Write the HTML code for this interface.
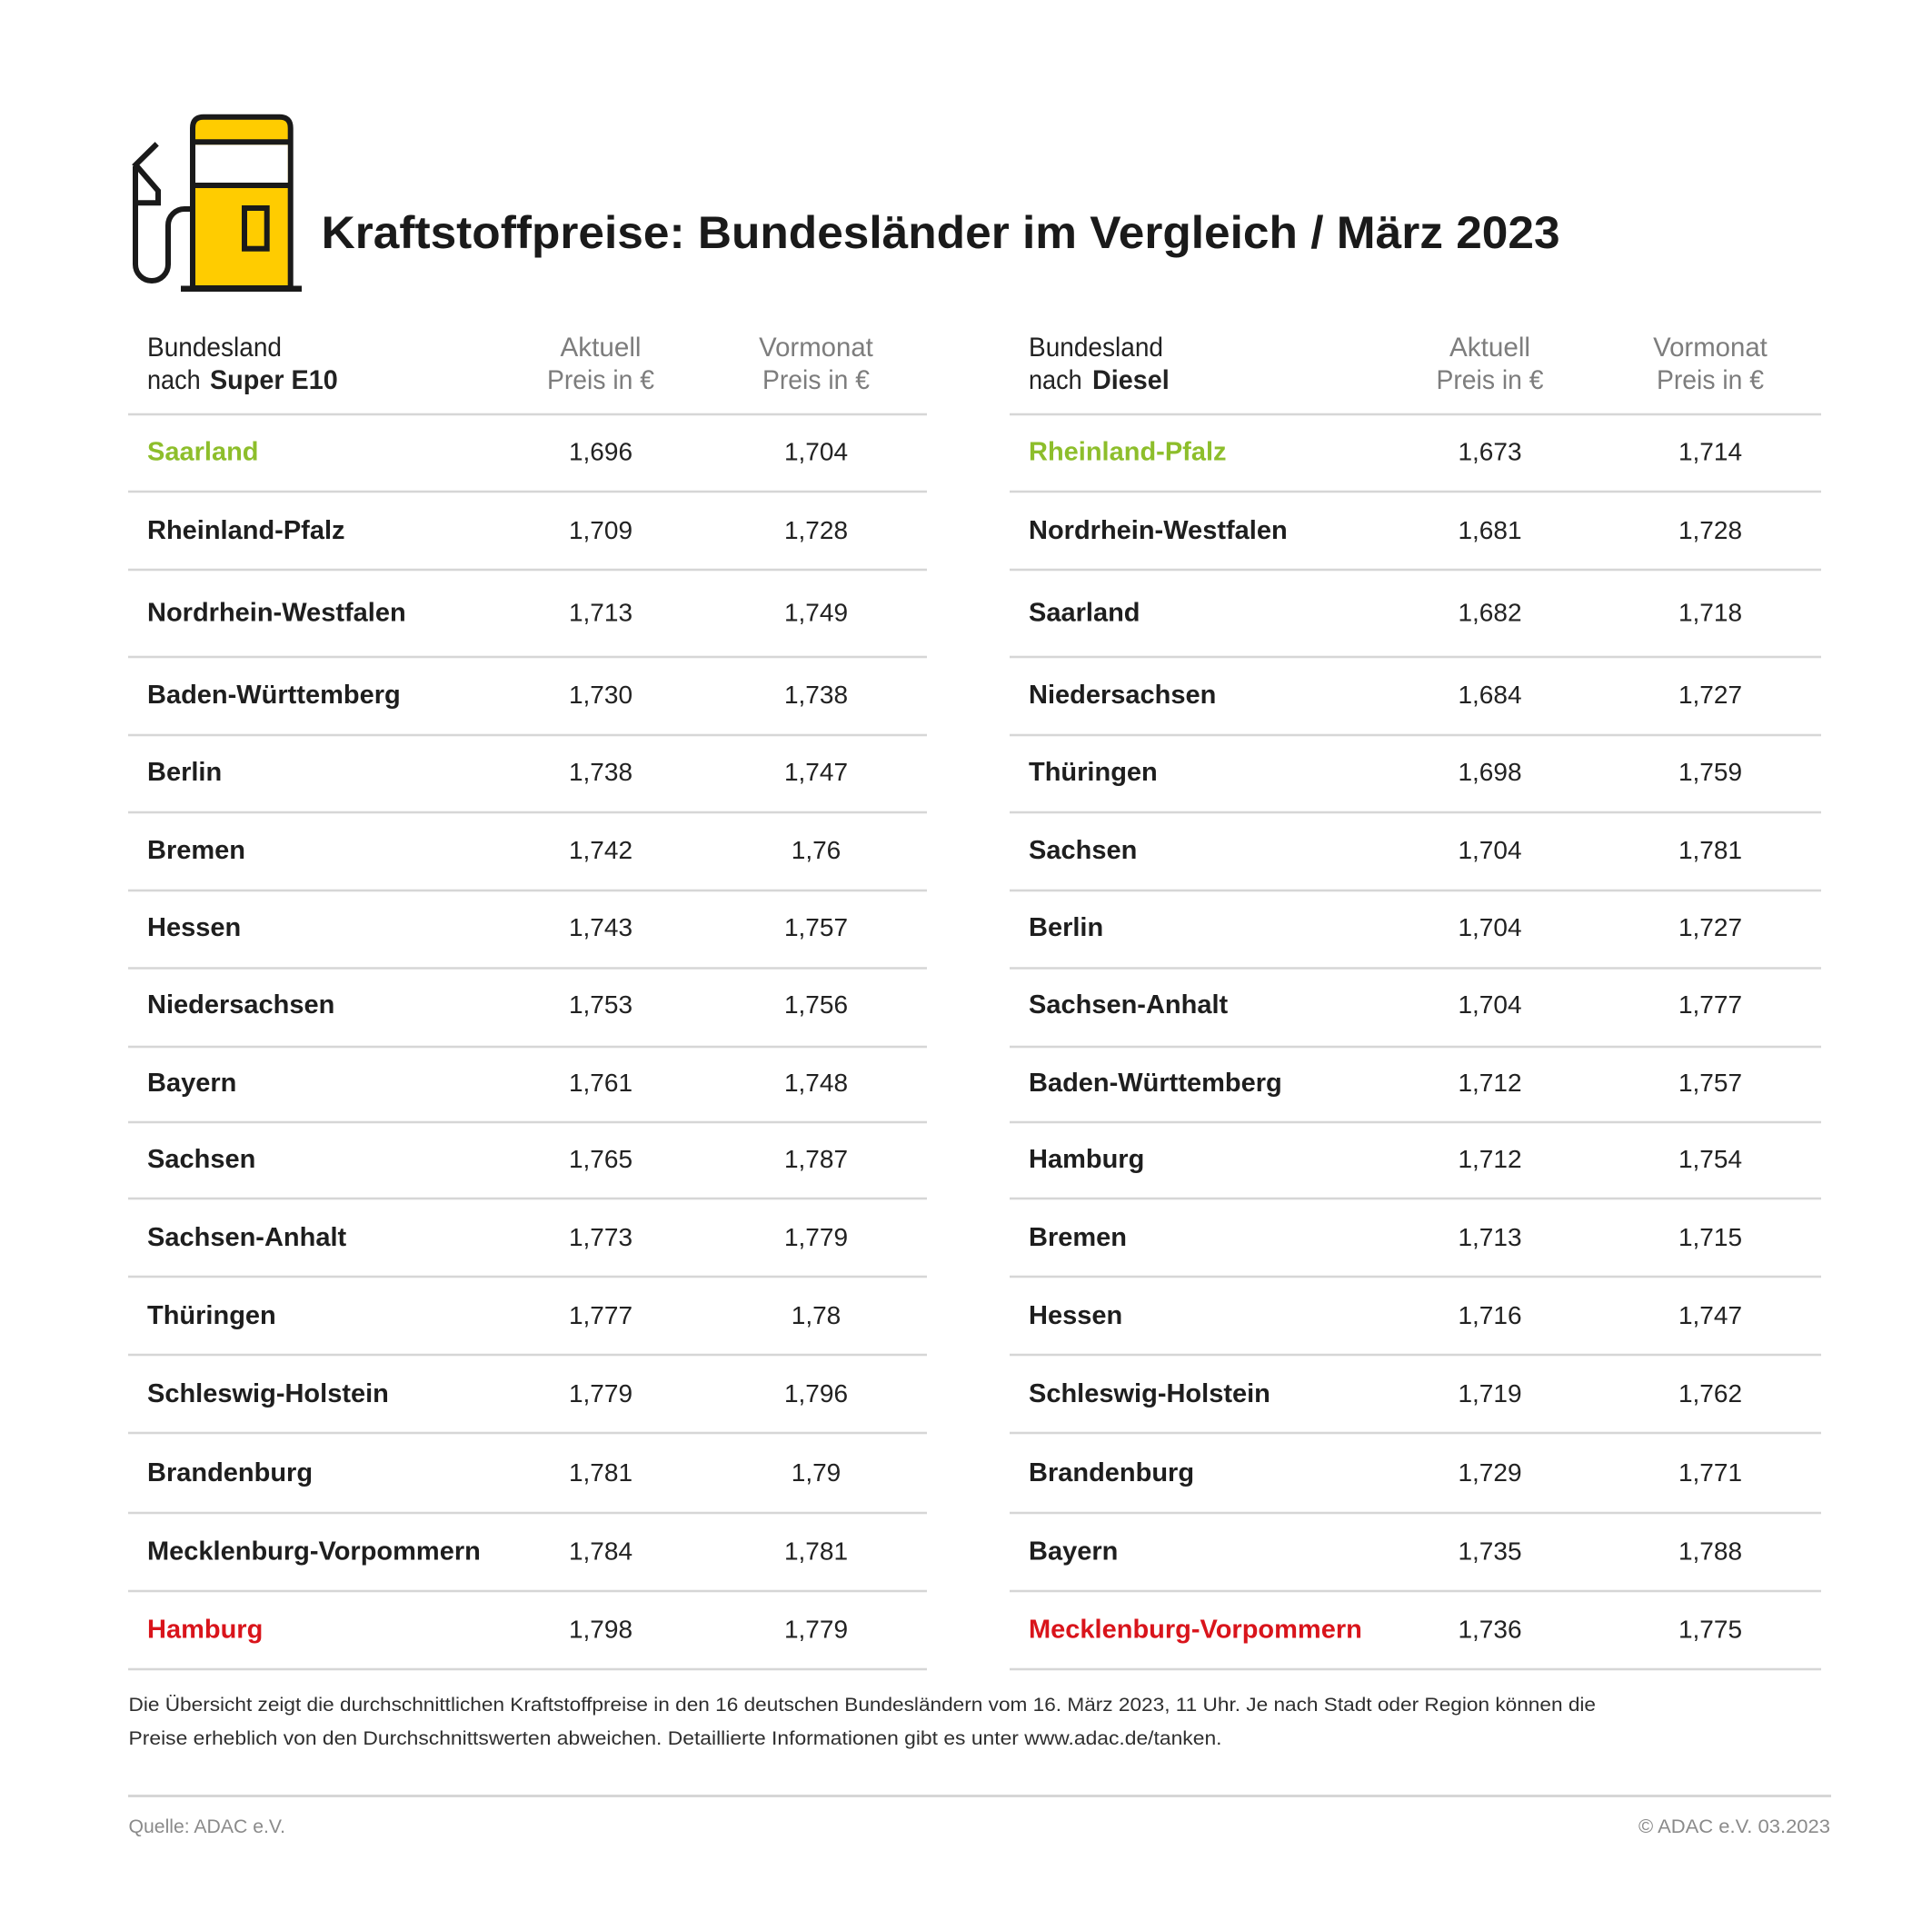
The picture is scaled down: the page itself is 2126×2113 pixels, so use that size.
<!DOCTYPE html>
<html lang="de">
<head>
<meta charset="utf-8">
<style>
  html,body{margin:0;padding:0;background:#fff;}
  svg{display:block;}
  .t{font-family:"Liberation Sans",Arial,sans-serif;}
  .nm{font-family:"Liberation Sans",Arial,sans-serif;font-weight:bold;font-size:29px;fill:#1e1e1e;}
  .num{font-family:"Liberation Sans",Arial,sans-serif;font-size:28px;fill:#222;}
  .hd{font-family:"Liberation Sans",Arial,sans-serif;font-size:29.5px;fill:#222;}
  .gr{font-family:"Liberation Sans",Arial,sans-serif;font-size:29.5px;fill:#7d7d7d;}
  .ln{stroke:#d6d6d6;stroke-width:2.5;}
</style>
</head>
<body>
<svg width="2126" height="2113" viewBox="0 0 2126 2113" xmlns="http://www.w3.org/2000/svg">
  <rect x="0" y="0" width="2126" height="2113" fill="#fff"/>

  <!-- Fuel pump icon -->
  <g stroke="#1a1a1a" stroke-width="6" fill="none">
    <path d="M212,317 L212,141 Q212,128.7 224,128.7 L307.7,128.7 Q319.7,128.7 319.7,141 L319.7,317 Z" fill="#ffcc00"/>
    <rect x="215" y="159.3" width="101.7" height="42" fill="#fff" stroke="none"/>
    <line x1="212" y1="156.3" x2="319.7" y2="156.3"/>
    <line x1="212" y1="204" x2="319.7" y2="204"/>
    <rect x="269" y="229" width="24.7" height="44.7" fill="#ffcc00"/>
    <path d="M172.7,158.3 L147.3,183.3"/>
    <path d="M149,181 L174,210 L174,223.3 L149,223.3"/>
    <path d="M149,183 L149,291 A18,18 0 0 0 185,291 L185,248 A18,18 0 0 1 203,230 L212,230"/>
  </g>
  <rect x="199" y="314.5" width="133" height="6.5" fill="#1a1a1a"/>

  <!-- Title -->
  <text class="t" x="353.6" y="273" font-size="50" font-weight="bold" fill="#1a1a1a" textLength="1363" lengthAdjust="spacingAndGlyphs">Kraftstoffpreise: Bundesländer im Vergleich / März 2023</text>

  <!-- Left table header -->
  <text class="hd" x="162" y="392" textLength="148" lengthAdjust="spacingAndGlyphs">Bundesland</text>
  <text class="hd" x="162" y="428" textLength="58.7" lengthAdjust="spacingAndGlyphs">nach</text>
  <text class="hd" x="231" y="428" font-weight="bold" textLength="140.7" lengthAdjust="spacingAndGlyphs">Super E10</text>
  <text class="gr" x="661" y="392" text-anchor="middle" textLength="89" lengthAdjust="spacingAndGlyphs">Aktuell</text>
  <text class="gr" x="661" y="428" text-anchor="middle" textLength="118" lengthAdjust="spacingAndGlyphs">Preis in €</text>
  <text class="gr" x="898" y="392" text-anchor="middle" textLength="125.7" lengthAdjust="spacingAndGlyphs">Vormonat</text>
  <text class="gr" x="898" y="428" text-anchor="middle" textLength="118" lengthAdjust="spacingAndGlyphs">Preis in €</text>

  <!-- Right table header -->
  <text class="hd" x="1132" y="392" textLength="148" lengthAdjust="spacingAndGlyphs">Bundesland</text>
  <text class="hd" x="1132" y="428" textLength="58.7" lengthAdjust="spacingAndGlyphs">nach</text>
  <text class="hd" x="1202" y="428" font-weight="bold" textLength="84.7" lengthAdjust="spacingAndGlyphs">Diesel</text>
  <text class="gr" x="1639.5" y="392" text-anchor="middle" textLength="89" lengthAdjust="spacingAndGlyphs">Aktuell</text>
  <text class="gr" x="1639.5" y="428" text-anchor="middle" textLength="118" lengthAdjust="spacingAndGlyphs">Preis in €</text>
  <text class="gr" x="1882" y="392" text-anchor="middle" textLength="125.7" lengthAdjust="spacingAndGlyphs">Vormonat</text>
  <text class="gr" x="1882" y="428" text-anchor="middle" textLength="118" lengthAdjust="spacingAndGlyphs">Preis in €</text>

  <!-- Horizontal lines left -->
  <g class="ln">
    <line x1="141" y1="456" x2="1020" y2="456"/>
    <line x1="141" y1="541" x2="1020" y2="541"/>
    <line x1="141" y1="627" x2="1020" y2="627"/>
    <line x1="141" y1="723" x2="1020" y2="723"/>
    <line x1="141" y1="809" x2="1020" y2="809"/>
    <line x1="141" y1="894" x2="1020" y2="894"/>
    <line x1="141" y1="980" x2="1020" y2="980"/>
    <line x1="141" y1="1065.5" x2="1020" y2="1065.5"/>
    <line x1="141" y1="1152" x2="1020" y2="1152"/>
    <line x1="141" y1="1235" x2="1020" y2="1235"/>
    <line x1="141" y1="1319" x2="1020" y2="1319"/>
    <line x1="141" y1="1405" x2="1020" y2="1405"/>
    <line x1="141" y1="1491" x2="1020" y2="1491"/>
    <line x1="141" y1="1577" x2="1020" y2="1577"/>
    <line x1="141" y1="1665" x2="1020" y2="1665"/>
    <line x1="141" y1="1751" x2="1020" y2="1751"/>
    <line x1="141" y1="1837" x2="1020" y2="1837"/>
  </g>
  <!-- Horizontal lines right -->
  <g class="ln">
    <line x1="1111" y1="456" x2="2004" y2="456"/>
    <line x1="1111" y1="541" x2="2004" y2="541"/>
    <line x1="1111" y1="627" x2="2004" y2="627"/>
    <line x1="1111" y1="723" x2="2004" y2="723"/>
    <line x1="1111" y1="809" x2="2004" y2="809"/>
    <line x1="1111" y1="894" x2="2004" y2="894"/>
    <line x1="1111" y1="980" x2="2004" y2="980"/>
    <line x1="1111" y1="1065.5" x2="2004" y2="1065.5"/>
    <line x1="1111" y1="1152" x2="2004" y2="1152"/>
    <line x1="1111" y1="1235" x2="2004" y2="1235"/>
    <line x1="1111" y1="1319" x2="2004" y2="1319"/>
    <line x1="1111" y1="1405" x2="2004" y2="1405"/>
    <line x1="1111" y1="1491" x2="2004" y2="1491"/>
    <line x1="1111" y1="1577" x2="2004" y2="1577"/>
    <line x1="1111" y1="1665" x2="2004" y2="1665"/>
    <line x1="1111" y1="1751" x2="2004" y2="1751"/>
    <line x1="1111" y1="1837" x2="2004" y2="1837"/>
  </g>

  <!-- Left table rows -->
  <g>
    <text class="nm" x="162" y="506.5" style="fill:#8dbe2b">Saarland</text>
    <text class="nm" x="162" y="593">Rheinland-Pfalz</text>
    <text class="nm" x="162" y="683.5">Nordrhein-Westfalen</text>
    <text class="nm" x="162" y="774">Baden-Württemberg</text>
    <text class="nm" x="162" y="859">Berlin</text>
    <text class="nm" x="162" y="945">Bremen</text>
    <text class="nm" x="162" y="1030">Hessen</text>
    <text class="nm" x="162" y="1115">Niedersachsen</text>
    <text class="nm" x="162" y="1201">Bayern</text>
    <text class="nm" x="162" y="1285">Sachsen</text>
    <text class="nm" x="162" y="1371">Sachsen-Anhalt</text>
    <text class="nm" x="162" y="1457">Thüringen</text>
    <text class="nm" x="162" y="1543">Schleswig-Holstein</text>
    <text class="nm" x="162" y="1630">Brandenburg</text>
    <text class="nm" x="162" y="1716.5">Mecklenburg-Vorpommern</text>
    <text class="nm" x="162" y="1802.5" style="fill:#d9141b">Hamburg</text>
  </g>
  <g text-anchor="middle">
    <text class="num" x="661" y="506.5">1,696</text>
    <text class="num" x="661" y="593">1,709</text>
    <text class="num" x="661" y="683.5">1,713</text>
    <text class="num" x="661" y="774">1,730</text>
    <text class="num" x="661" y="859">1,738</text>
    <text class="num" x="661" y="945">1,742</text>
    <text class="num" x="661" y="1030">1,743</text>
    <text class="num" x="661" y="1115">1,753</text>
    <text class="num" x="661" y="1201">1,761</text>
    <text class="num" x="661" y="1285">1,765</text>
    <text class="num" x="661" y="1371">1,773</text>
    <text class="num" x="661" y="1457">1,777</text>
    <text class="num" x="661" y="1543">1,779</text>
    <text class="num" x="661" y="1630">1,781</text>
    <text class="num" x="661" y="1716.5">1,784</text>
    <text class="num" x="661" y="1802.5">1,798</text>

    <text class="num" x="898" y="506.5">1,704</text>
    <text class="num" x="898" y="593">1,728</text>
    <text class="num" x="898" y="683.5">1,749</text>
    <text class="num" x="898" y="774">1,738</text>
    <text class="num" x="898" y="859">1,747</text>
    <text class="num" x="898" y="945">1,76</text>
    <text class="num" x="898" y="1030">1,757</text>
    <text class="num" x="898" y="1115">1,756</text>
    <text class="num" x="898" y="1201">1,748</text>
    <text class="num" x="898" y="1285">1,787</text>
    <text class="num" x="898" y="1371">1,779</text>
    <text class="num" x="898" y="1457">1,78</text>
    <text class="num" x="898" y="1543">1,796</text>
    <text class="num" x="898" y="1630">1,79</text>
    <text class="num" x="898" y="1716.5">1,781</text>
    <text class="num" x="898" y="1802.5">1,779</text>
  </g>

  <!-- Right table rows -->
  <g>
    <text class="nm" x="1132" y="506.5" style="fill:#8dbe2b">Rheinland-Pfalz</text>
    <text class="nm" x="1132" y="593">Nordrhein-Westfalen</text>
    <text class="nm" x="1132" y="683.5">Saarland</text>
    <text class="nm" x="1132" y="774">Niedersachsen</text>
    <text class="nm" x="1132" y="859">Thüringen</text>
    <text class="nm" x="1132" y="945">Sachsen</text>
    <text class="nm" x="1132" y="1030">Berlin</text>
    <text class="nm" x="1132" y="1115">Sachsen-Anhalt</text>
    <text class="nm" x="1132" y="1201">Baden-Württemberg</text>
    <text class="nm" x="1132" y="1285">Hamburg</text>
    <text class="nm" x="1132" y="1371">Bremen</text>
    <text class="nm" x="1132" y="1457">Hessen</text>
    <text class="nm" x="1132" y="1543">Schleswig-Holstein</text>
    <text class="nm" x="1132" y="1630">Brandenburg</text>
    <text class="nm" x="1132" y="1716.5">Bayern</text>
    <text class="nm" x="1132" y="1802.5" style="fill:#d9141b">Mecklenburg-Vorpommern</text>
  </g>
  <g text-anchor="middle">
    <text class="num" x="1639.5" y="506.5">1,673</text>
    <text class="num" x="1639.5" y="593">1,681</text>
    <text class="num" x="1639.5" y="683.5">1,682</text>
    <text class="num" x="1639.5" y="774">1,684</text>
    <text class="num" x="1639.5" y="859">1,698</text>
    <text class="num" x="1639.5" y="945">1,704</text>
    <text class="num" x="1639.5" y="1030">1,704</text>
    <text class="num" x="1639.5" y="1115">1,704</text>
    <text class="num" x="1639.5" y="1201">1,712</text>
    <text class="num" x="1639.5" y="1285">1,712</text>
    <text class="num" x="1639.5" y="1371">1,713</text>
    <text class="num" x="1639.5" y="1457">1,716</text>
    <text class="num" x="1639.5" y="1543">1,719</text>
    <text class="num" x="1639.5" y="1630">1,729</text>
    <text class="num" x="1639.5" y="1716.5">1,735</text>
    <text class="num" x="1639.5" y="1802.5">1,736</text>

    <text class="num" x="1882" y="506.5">1,714</text>
    <text class="num" x="1882" y="593">1,728</text>
    <text class="num" x="1882" y="683.5">1,718</text>
    <text class="num" x="1882" y="774">1,727</text>
    <text class="num" x="1882" y="859">1,759</text>
    <text class="num" x="1882" y="945">1,781</text>
    <text class="num" x="1882" y="1030">1,727</text>
    <text class="num" x="1882" y="1115">1,777</text>
    <text class="num" x="1882" y="1201">1,757</text>
    <text class="num" x="1882" y="1285">1,754</text>
    <text class="num" x="1882" y="1371">1,715</text>
    <text class="num" x="1882" y="1457">1,747</text>
    <text class="num" x="1882" y="1543">1,762</text>
    <text class="num" x="1882" y="1630">1,771</text>
    <text class="num" x="1882" y="1716.5">1,788</text>
    <text class="num" x="1882" y="1802.5">1,775</text>
  </g>

  <!-- Footer notes -->
  <text class="t" x="141.5" y="1883" font-size="21.5" fill="#2e2e2e" textLength="1614.5" lengthAdjust="spacingAndGlyphs">Die Übersicht zeigt die durchschnittlichen Kraftstoffpreise in den 16 deutschen Bundesländern vom 16. März 2023, 11 Uhr. Je nach Stadt oder Region können die</text>
  <text class="t" x="141.5" y="1920" font-size="21.5" fill="#2e2e2e" textLength="1203" lengthAdjust="spacingAndGlyphs">Preise erheblich von den Durchschnittswerten abweichen. Detaillierte Informationen gibt es unter www.adac.de/tanken.</text>

  <line x1="141" y1="1976.5" x2="2015" y2="1976.5" stroke="#d6d6d6" stroke-width="3"/>

  <text class="t" x="141.5" y="2017" font-size="21.5" fill="#8a8a8a" textLength="172.5" lengthAdjust="spacingAndGlyphs">Quelle: ADAC e.V.</text>
  <text class="t" x="2014" y="2017" font-size="21.5" fill="#8a8a8a" text-anchor="end" textLength="211" lengthAdjust="spacingAndGlyphs">© ADAC e.V. 03.2023</text>
</svg>
</body>
</html>
